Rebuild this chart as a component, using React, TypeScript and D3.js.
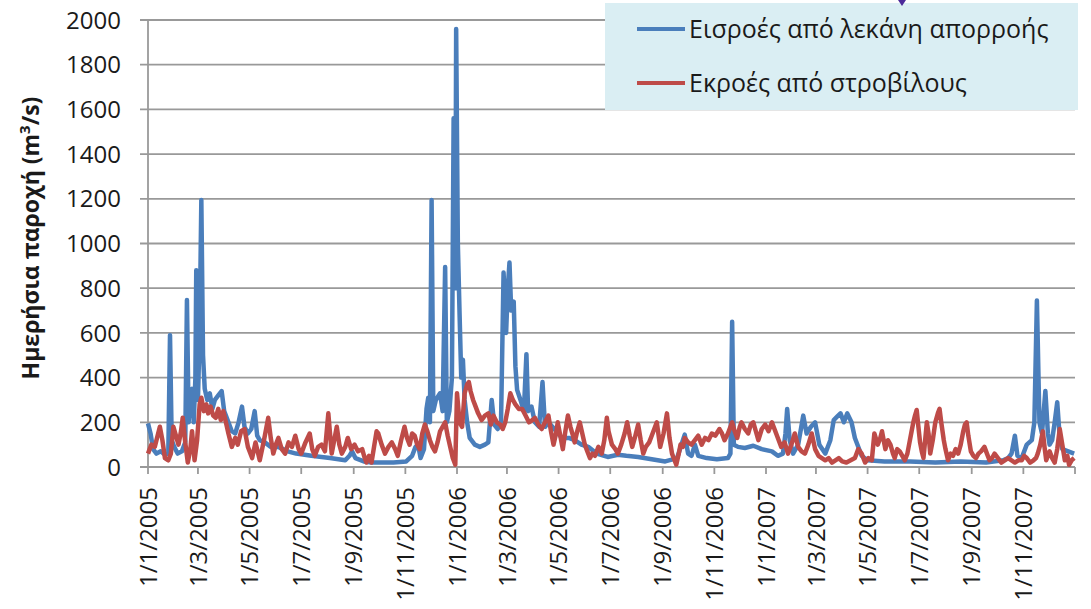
import React from "react";
import * as d3 from "d3";

// ---- DATA (day offsets from 1/1/2005, discharge m3/s) ----
const START_YEAR = 2005;

const inflowDays = [0,3,6,10,15,20,24,26,28,31,35,40,44,46,48,50,52,54,56,57,59,61,63,65,67,70,73,76,79,83,87,90,95,99,103,107,111,114,118,122,126,129,132,138,145,154,165,175,185,193,205,215,225,233,238,241,245,255,264,275,290,305,312,316,319,322,326,329,331,333,335,337,340,345,348,351,353,356,359,361,363,364,366,368,370,372,374,377,380,386,392,398,402,406,409,413,417,420,423,425,427,429,432,434,436,440,444,447,449,453,457,462,466,469,473,480,489,497,504,512,520,530,543,555,565,579,595,611,625,634,638,642,646,650,660,672,685,688,690,692,697,705,715,725,737,744,750,753,755,758,762,768,774,778,783,788,793,800,806,810,814,818,822,826,831,835,843,850,870,900,930,960,990,1010,1016,1020,1024,1027,1032,1038,1044,1047,1050,1053,1056,1060,1063,1065,1068,1071,1074,1077,1080,1087,1094];
const inflowValues = [195,150,80,60,70,55,60,590,120,90,60,70,110,747,200,330,350,200,400,880,300,600,1195,500,350,300,330,260,300,320,340,250,200,160,150,200,270,180,150,170,250,140,120,110,90,90,70,60,55,50,45,40,35,30,50,70,40,25,20,20,20,25,50,90,100,40,80,260,310,200,1195,250,300,330,250,895,200,250,400,1560,800,1960,1000,690,400,480,300,200,130,100,90,100,110,300,190,170,200,870,600,800,915,700,740,450,345,300,250,505,250,270,200,180,380,180,200,170,130,130,120,100,90,60,45,55,50,45,35,25,40,145,60,50,100,50,40,35,40,60,650,100,90,85,95,80,70,50,60,150,260,120,60,100,230,150,180,200,100,60,120,210,225,240,200,240,200,130,50,30,25,25,20,25,20,30,40,60,140,50,40,100,120,200,745,200,150,340,150,100,120,200,290,130,80,70,60];

const outflowDays = [0,4,8,12,14,17,20,24,27,30,33,36,39,41,44,47,50,52,55,58,61,63,66,69,71,74,77,80,83,86,89,92,95,99,103,106,110,114,118,123,127,132,137,142,145,148,151,154,158,162,166,170,174,178,181,186,191,194,197,201,205,209,213,217,220,223,226,229,233,236,240,244,248,253,256,258,261,264,267,270,272,276,280,284,288,292,295,299,303,306,309,312,315,318,321,324,327,330,333,336,339,342,345,348,351,354,357,360,363,365,368,371,374,377,379,381,384,386,390,394,398,402,405,408,412,416,419,422,425,428,431,434,438,442,446,450,454,457,461,465,469,473,476,479,482,484,487,490,493,496,499,502,504,507,510,513,516,519,522,525,528,532,536,539,542,544,548,552,555,559,563,566,569,572,575,579,582,585,588,592,595,598,601,605,609,613,616,619,622,624,627,629,632,634,638,642,646,650,654,658,662,666,670,675,678,681,685,688,690,693,696,699,701,705,709,712,715,718,721,725,729,733,737,740,742,745,748,752,756,760,764,768,772,776,780,784,788,792,796,800,804,808,812,816,820,825,830,835,839,843,847,851,855,858,862,865,867,871,874,877,880,882,885,888,891,894,897,899,902,904,906,908,910,912,914,916,918,920,922,924,927,930,933,935,937,940,942,945,948,951,954,957,960,963,965,967,969,972,975,978,981,984,986,988,991,994,997,1000,1004,1008,1012,1016,1020,1024,1028,1032,1035,1038,1042,1046,1049,1051,1054,1057,1059,1061,1063,1065,1068,1071,1074,1077,1080,1083,1086,1088,1091,1094];
const outflowValues = [60,100,90,150,180,120,40,30,60,180,140,100,160,220,110,20,80,160,30,120,280,310,250,280,240,270,230,220,260,210,250,200,150,90,130,100,160,170,90,40,110,30,120,220,130,60,100,130,80,60,110,90,140,80,60,110,150,80,50,90,100,70,240,60,120,180,100,60,90,130,80,100,70,80,40,20,50,20,90,160,150,100,60,90,110,80,50,120,180,130,100,150,140,100,80,150,190,160,120,90,70,110,160,180,200,140,90,40,10,330,200,180,330,370,380,340,300,280,240,210,230,240,190,230,200,190,170,200,260,330,300,280,260,260,230,200,210,220,190,170,200,230,160,100,150,200,140,80,160,230,180,140,110,160,200,150,100,70,40,60,50,90,60,120,220,160,100,80,60,100,150,200,140,90,130,190,120,60,90,110,140,170,200,90,150,240,130,60,30,10,60,100,90,130,110,100,120,140,100,130,120,150,140,170,150,120,150,180,200,160,130,180,200,170,150,190,200,160,120,170,190,160,200,170,150,120,90,110,60,100,150,90,70,60,100,150,80,50,40,30,40,20,30,40,25,20,30,40,80,60,20,40,30,150,100,130,160,80,120,100,60,40,80,70,50,30,60,100,160,200,230,255,180,110,70,40,120,200,150,60,120,200,240,260,200,120,80,30,60,50,80,60,100,160,190,200,140,70,50,40,60,70,80,90,60,30,40,60,40,20,30,40,30,20,30,30,50,40,20,30,40,60,100,160,90,30,50,70,40,20,80,170,100,30,50,10,30,40];

const yTicks = [0,200,400,600,800,1000,1200,1400,1600,1800,2000];
const seriesNames = ["Εισροές από λεκάνη απορροής", "Εκροές από στροβίλους"];
const seriesColors = ["#4A7EBB", "#BE4B48"];

const toDate = (day: number) => new Date(START_YEAR, 0, 1 + day);

export default function App() {
  const W = 1091, H = 609;
  const left = 148, right = 1075, top = 20, bottom = 467;
  const x = d3.scaleTime().domain([new Date(2005, 0, 1), new Date(2008, 0, 1)]).range([left, right]);
  const y = d3.scaleLinear().domain([0, 2000]).range([bottom, top]);
  const line = d3.line<[number, number]>().x(d => x(toDate(d[0]))).y(d => y(d[1]));
  const inflow = inflowDays.map((d, i) => [d, inflowValues[i]] as [number, number]);
  const outflow = outflowDays.map((d, i) => [d, outflowValues[i]] as [number, number]);
  const xTicks = d3.timeMonth.every(2)!.range(new Date(2005, 0, 1), new Date(2008, 0, 2));
  const fmt = (d: Date) => `${d.getDate()}/${d.getMonth() + 1}/${d.getFullYear()}`;
  const font = "'Open Sans', sans-serif";
  const grid = "#999999";

  return (
    <svg width={W} height={H} style={{ position: "absolute", left: 0, top: 0, background: "#fff" }} fontFamily={font}>
      {yTicks.map(t => (
        <g key={t}>
          <line x1={left - 8} x2={right} y1={y(t)} y2={y(t)} stroke={grid} strokeWidth={1.8} />
          <text x={121} y={y(t)} dy="0.36em" textAnchor="end" fontSize={24} fill="#1a1a1a">{t}</text>
        </g>
      ))}
      <line x1={left} x2={left} y1={top} y2={bottom} stroke={grid} strokeWidth={1.8} />
      {xTicks.map((d, i) => (
        <g key={i}>
          <line x1={x(d)} x2={x(d)} y1={bottom} y2={bottom + 7} stroke={grid} strokeWidth={1.8} />
          {d.getFullYear() < 2008 && (
            <text transform={`translate(${x(d)},${487}) rotate(-90)`} dy="0.36em" textAnchor="end" fontSize={24} fill="#1a1a1a">{fmt(d)}</text>
          )}
        </g>
      ))}
      <path d={line(inflow) || ""} fill="none" stroke={seriesColors[0]} strokeWidth={4.5} strokeLinejoin="round" />
      <path d={line(outflow) || ""} fill="none" stroke={seriesColors[1]} strokeWidth={4.5} strokeLinejoin="round" />
      <text transform={`translate(31,238) rotate(-90)`} textAnchor="middle" dy="0.36em" fontSize={23} fontWeight="bold" fill="#1a1a1a">
        Ημερήσια παροχή (m<tspan fontSize={15} dy="-9">3</tspan><tspan dy="9">/s)</tspan>
      </text>
      <rect x={605} y={3} width={473} height={107} fill="#DAEEF3" />
      {seriesNames.map((n, i) => (
        <g key={n}>
          <line x1={637} x2={685} y1={29 + i * 54} y2={29 + i * 54} stroke={seriesColors[i]} strokeWidth={4} />
          <text x={689} y={29 + i * 54} dy="0.36em" fontSize={25} fill="#1a1a1a">{n}</text>
        </g>
      ))}
      <path d="M898,0 L906,0 L902,6 Z" fill="#4B2A9A" />
    </svg>
  );
}
